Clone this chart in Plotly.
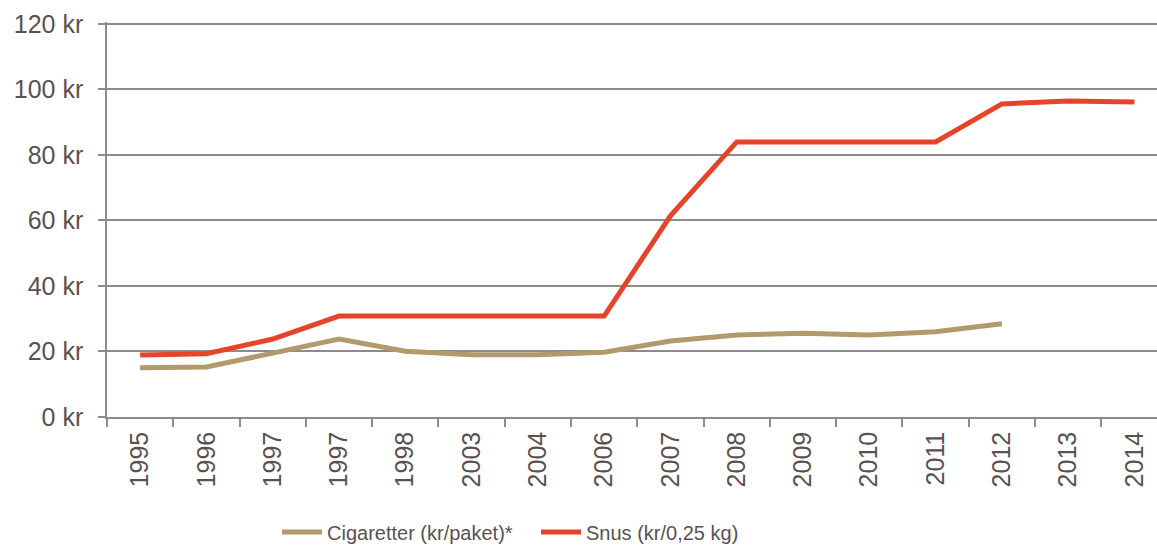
import plotly.graph_objects as go

years = ["1995", "1996", "1997", "1997", "1998", "2003", "2004", "2006",
         "2007", "2008", "2009", "2010", "2011", "2012", "2013", "2014"]
cigaretter = [15.0, 15.3, 19.5, 23.8, 20.1, 19.0, 19.0, 19.8,
              23.2, 25.0, 25.6, 25.0, 26.0, 28.5, None, None]
snus = [18.9, 19.3, 23.8, 30.8, 30.8, 30.8, 30.8, 30.8,
        61.4, 84.0, 84.0, 84.0, 84.0, 95.6, 96.5, 96.2]
y_ticks = [0, 20, 40, 60, 80, 100, 120]

idx = list(range(len(years)))

fig = go.Figure()
fig.add_trace(go.Scatter(x=idx, y=cigaretter, mode="lines", name="Cigaretter (kr/paket)*",
                         line=dict(color="#B19A6B", width=5), connectgaps=False,
                         legend="legend"))
fig.add_trace(go.Scatter(x=idx, y=snus, mode="lines", name="Snus (kr/0,25 kg)",
                         line=dict(color="#E5442A", width=5), legend="legend2"))

font_col = "#595153"
fam = "Liberation Sans, Arial, sans-serif"
W, H = 1157, 546
L, T, B = 107, 22, 129
pw = W - L

def lx(px):
    return (px - L) / pw

leg_common = dict(orientation="h", yanchor="middle", y=(417 - 532) / (H - T - B),
                  xanchor="left", font=dict(size=20, color=font_col),
                  bgcolor="rgba(0,0,0,0)", itemwidth=40)
fig.update_layout(
    width=W, height=H,
    margin=dict(l=L, r=0, t=T, b=B, autoexpand=False),
    paper_bgcolor="white", plot_bgcolor="white",
    font=dict(family=fam, size=25, color=font_col),
    showlegend=True,
    legend=dict(x=lx(282 - 5), **leg_common),
    legend2=dict(x=lx(543 - 7), **leg_common),
    xaxis=dict(
        range=[-0.5, 15.34], tickmode="array", tickvals=idx, ticktext=years,
        tickangle=-90, ticks="", showgrid=False, zeroline=False, automargin=False,
        showline=True, linecolor="#8C8C8C", linewidth=1.5,
        minor=dict(tickmode="array", tickvals=[i - 0.5 for i in range(len(years) + 1)],
                   ticks="outside", ticklen=8, tickcolor="#8C8C8C", tickwidth=1.5,
                   showgrid=False),
        tickfont=dict(size=25, color=font_col), ticklabelstandoff=3,
    ),
    yaxis=dict(
        range=[0, 120.6], tickmode="array", tickvals=y_ticks, automargin=False,
        ticktext=[f"{v} kr" for v in y_ticks],
        showgrid=True, gridcolor="#8C8C8C", gridwidth=1.5,
        zeroline=False, showline=True, linecolor="#8C8C8C", linewidth=1.5,
        ticks="outside", ticklen=7, tickcolor="#8C8C8C", tickwidth=1.5,
        tickfont=dict(size=25, color=font_col), ticklabelstandoff=10,
    ),
)

fig.write_html("out.html", config={"displayModeBar": False},
               post_script="document.body.style.margin='0';document.body.style.overflow='hidden';")
